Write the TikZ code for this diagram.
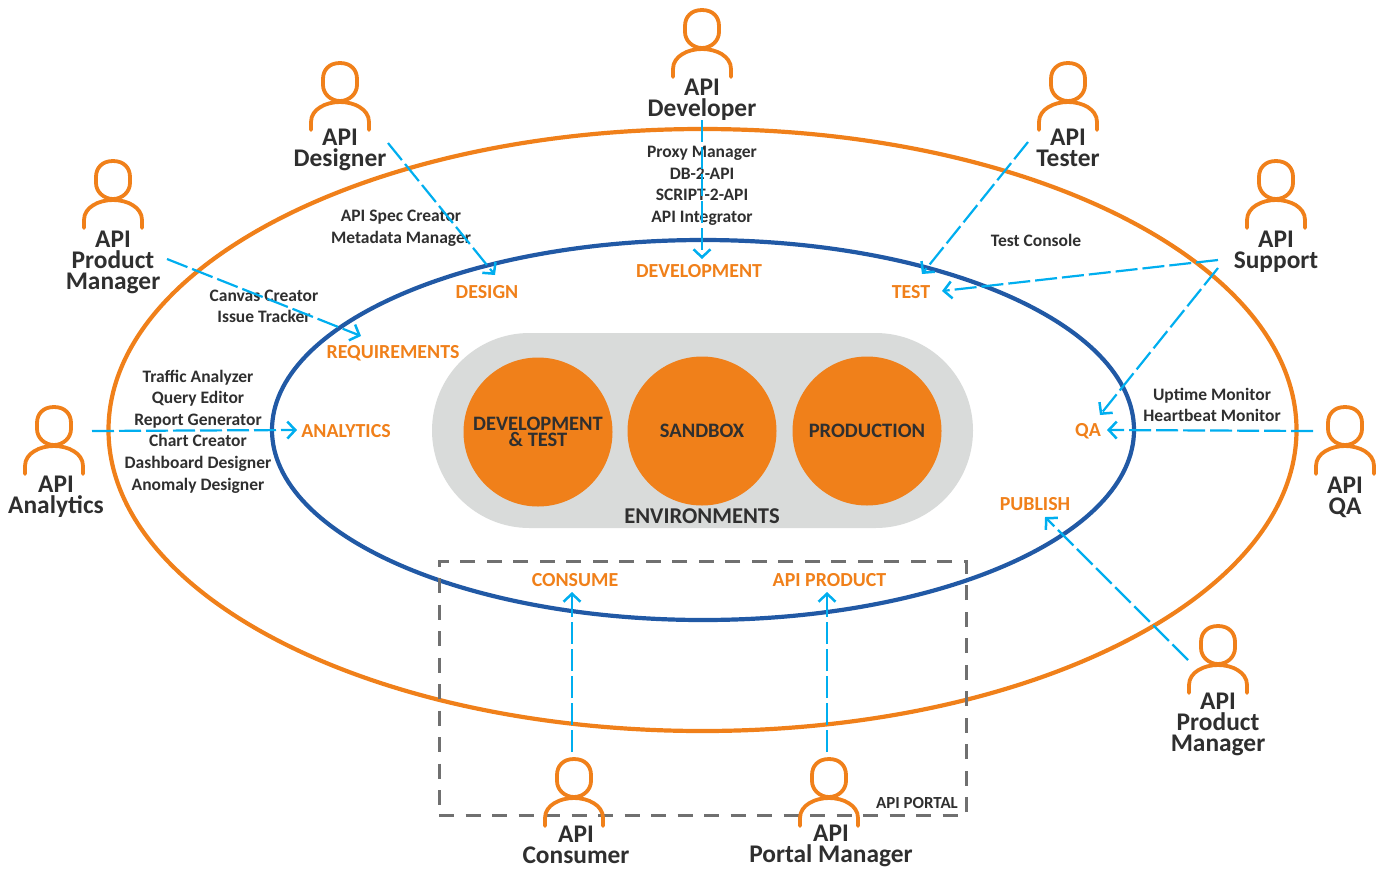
\documentclass[tikz,border=0pt]{standalone}
\usepackage{fontspec}
\setmainfont{Carlito}
\usetikzlibrary{arrows.meta,shapes.misc}
\definecolor{orng}{HTML}{F0801A}
\definecolor{blu}{HTML}{2159A5}
\definecolor{cyn}{HTML}{00AEEF}
\definecolor{gry}{HTML}{D9DBDA}
\definecolor{dgry}{HTML}{707070}
\definecolor{ink}{HTML}{2F2F2F}
\tikzset{
  x=1pt,y=-1pt,
  person/.pic={
    \draw[orng,line width=3.8pt,line cap=round,line join=round]
      (0,0) .. controls (11,0) and (17,7) .. (17,16) -- (17,22)
      .. controls (17,31) and (9,38) .. (0,38)
      .. controls (-9,38) and (-17,31) .. (-17,22) -- (-17,16)
      .. controls (-17,7) and (-11,0) .. (0,0) -- cycle;
    \draw[orng,line width=3.8pt,line cap=round]
      (-29,67) -- (-29,59) .. controls (-29,46) and (-14,39) .. (0,39)
      .. controls (14,39) and (29,46) .. (29,59) -- (29,67);
  },
  role/.style={font=\fontsize{25.4}{21}\selectfont\bfseries,text=ink,align=center,inner sep=0pt},
  tool/.style={font=\fontsize{17.5}{21.6}\selectfont\bfseries,text=ink,align=center,inner sep=0pt},
  stage/.style={font=\fontsize{19.9}{20}\selectfont\bfseries,text=orng,align=center,inner sep=0pt},
  envc/.style={circle,fill=orng,minimum size=149pt,inner sep=0pt,align=center,text=ink,
    font=\fontsize{20.5}{16.5}\selectfont\bfseries},
  flow/.style={cyn,line width=2.2pt,dash pattern=on 22pt off 5pt,
    -{Straight Barb[length=8pt,width=17pt,line width=2.5pt]}},
}
\begin{document}
\begin{tikzpicture}
\useasboundingbox (0,0) rectangle (1386,868);
% rings and environments
\draw[orng,line width=4.2pt] (702.5,430) ellipse [x radius=594,y radius=301];
\node[rounded rectangle,fill=gry,minimum width=541pt,minimum height=195pt,inner sep=0pt] (envbox) at (702.5,430.5) {};
\draw[blu,line width=4.2pt] (703,430) ellipse [x radius=431,y radius=190];
\node[envc] (devtest) at (538,432) {DEVELOPMENT\\\& TEST};
\node[envc] (sandbox) at (702,431) {SANDBOX};
\node[envc] (production) at (867,431) {PRODUCTION};
\node[font=\fontsize{22.6}{22}\selectfont\bfseries,text=ink,inner sep=0pt] (envlabel) at (702,516) {ENVIRONMENTS};
% portal
\node[draw=dgry,line width=3pt,dash pattern=on 15pt off 11.5pt,minimum width=527pt,minimum height=254pt,inner sep=0pt] (portal) at (702.5,688) {};
\node[font=\fontsize{16.9}{16}\selectfont\bfseries,text=ink,inner sep=0pt] (portallabel) at (917,803) {API PORTAL};
% people
\pic at (113,161) {person};
\pic at (340,63) {person};
\pic at (702,10) {person};
\pic at (1068,63) {person};
\pic at (1276,161) {person};
\pic at (1345,407) {person};
\pic at (54,407) {person};
\pic at (1218,626) {person};
\pic at (574,759) {person};
\pic at (829,759) {person};
\node[role] (rpm) at (113,262) {API\\Product\\Manager};
\node[role] (rdes) at (340,150) {API\\Designer};
\node[role] (rdev) at (702,100) {API\\Developer};
\node[role] (rtest) at (1068,148) {API\\Tester};
\node[role] (rsup) at (1276,252) {API\\Support};
\node[role] (rqa) at (1345,497) {API\\QA};
\node[role] (rana) at (56,497) {API\\Analytics};
\node[role] (rpm2) at (1218,724) {API\\Product\\Manager};
\node[role] (rcon) at (576,845) {API\\Consumer};
\node[role] (rpor) at (831,846) {API\\Portal Manager};
% stages
\node[stage] (sreq) at (393,353) {REQUIREMENTS};
\node[stage] (sdes) at (487,292) {DESIGN};
\node[stage] (sdev) at (699,271) {DEVELOPMENT};
\node[stage] (stest) at (911,292) {TEST};
\node[stage] (sana) at (346,431) {ANALYTICS};
\node[stage] (sqa) at (1088,431) {QA};
\node[stage] (spub) at (1035,504) {PUBLISH};
\node[stage] (scon) at (575,580) {CONSUME};
\node[stage] (sprod) at (829.5,580) {API PRODUCT};
% tools
\node[tool] (tpm) at (264,306.5) {Canvas Creator\\Issue Tracker};
\node[tool] (tdes) at (401,228.5) {API Spec Creator\\Metadata Manager};
\node[tool] (tdev) at (702,186) {Proxy Manager\\DB-2-API\\SCRIPT-2-API\\API Integrator};
\node[tool] (ttest) at (1036,240) {Test Console};
\node[tool] (tqa) at (1212,405) {Uptime Monitor\\Heartbeat Monitor};
\node[tool] (tana) at (198,431.5) {Traffic Analyzer\\Query Editor\\Report Generator\\Chart Creator\\Dashboard Designer\\Anomaly Designer};
% connector ends
\coordinate (apm) at (167,259);   \coordinate (bpm) at (361,336);
\coordinate (ades) at (388,143);  \coordinate (bdes) at (495,275);
\coordinate (adev) at (702,120);  \coordinate (bdev) at (702,259);
\coordinate (atest) at (1028,142);\coordinate (btest) at (922,274);
\coordinate (asup) at (1218,260); \coordinate (bsup) at (942,291);
\coordinate (asq) at (1218,268);  \coordinate (bsq) at (1100,415);
\coordinate (aqa) at (1313,431);  \coordinate (bqa) at (1107,430);
\coordinate (aana) at (92,431);   \coordinate (bana) at (297,430);
\coordinate (apub) at (1188,660); \coordinate (bpub) at (1045,517);
\coordinate (acon) at (572,752);  \coordinate (bcon) at (572,592);
\coordinate (apor) at (827,752);  \coordinate (bpor) at (827,592);
\foreach \s/\e in {apm/bpm,ades/bdes,adev/bdev,atest/btest,asup/bsup,asq/bsq,aqa/bqa,aana/bana,apub/bpub,acon/bcon,apor/bpor}
  \draw[flow] (\s) -- (\e);
\end{tikzpicture}
\end{document}
